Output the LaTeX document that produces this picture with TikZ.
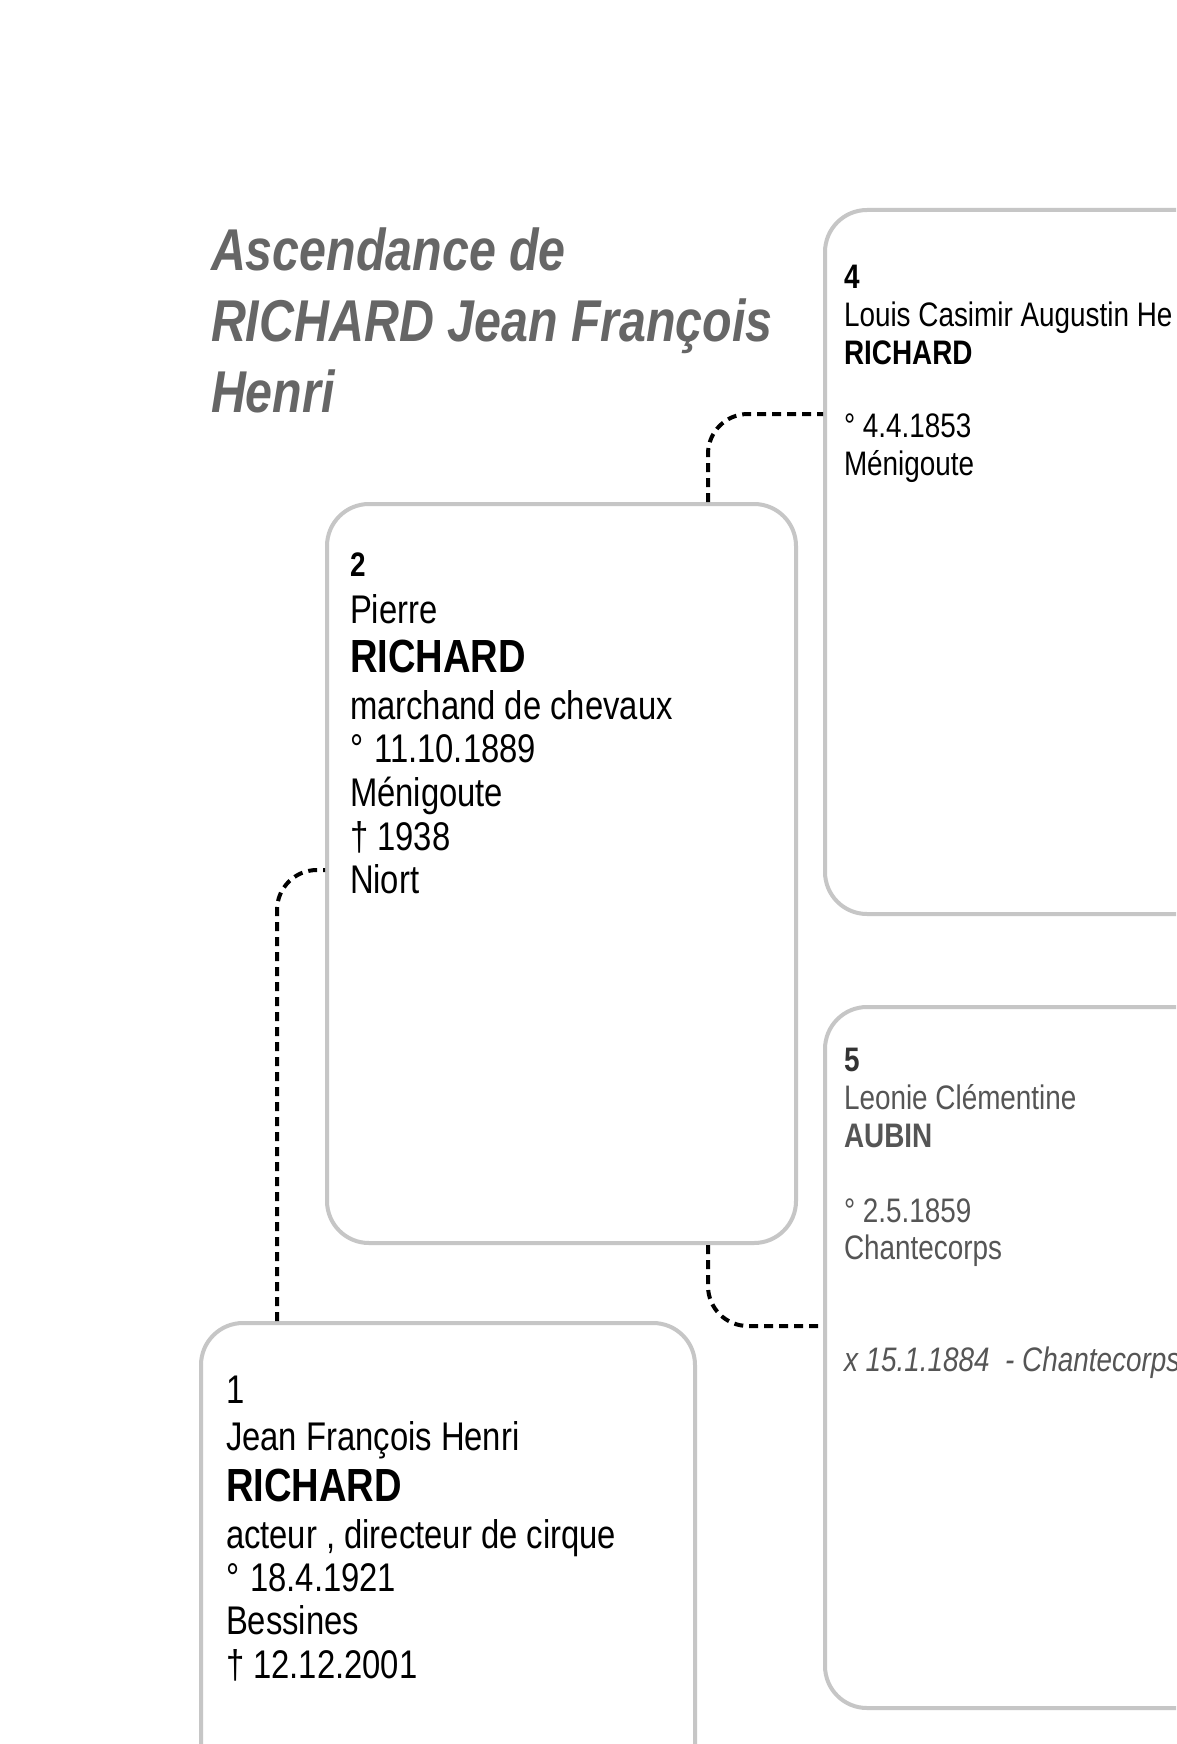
\documentclass[tikz,border=0pt]{standalone}
\usepackage{fontspec}
\setmainfont{Liberation Sans}[FakeStretch=0.82]
\definecolor{boxgray}{HTML}{C6C6C6}
\definecolor{titlegray}{HTML}{666666}
\definecolor{softgray}{HTML}{555555}
\tikzset{
  pbox/.style={draw=boxgray, line width=4pt, rounded corners=42pt, rectangle, inner sep=0pt, anchor=north west, fill=white},
  conn/.style={draw=black, line width=4pt, dash pattern=on 9pt off 6pt, rounded corners=40pt},
  tl/.style={anchor=base west, inner sep=0pt, outer sep=0pt},
  ttitle/.style={tl, text=titlegray, font=\fontsize{59pt}{71pt}\selectfont\bfseries\itshape},
  tbig/.style={tl, font=\fontsize{40pt}{44pt}\selectfont},
  tbigname/.style={tl, font=\fontsize{46.5pt}{50pt}\selectfont\bfseries},
  tsmall/.style={tl, font=\fontsize{34pt}{38pt}\selectfont},
  tsmallb/.style={tl, font=\fontsize{34pt}{38pt}\selectfont\bfseries},
}
\begin{document}
\begin{tikzpicture}[x=1pt,y=-1pt]
\useasboundingbox (0,0) rectangle (1176,1744);
\clip (0,0) rectangle (1176,1744);
\fill[white] (0,0) rectangle (1176,1744);

% title
\node[ttitle] (title1) at (211,270) {Ascendance de};
\node[ttitle] (title2) at (211,341) {RICHARD Jean François};
\node[ttitle] (title3) at (211,412) {Henri};

% boxes
\node[pbox, minimum width=520pt, minimum height=704pt] (b4) at (823,208) {};
\node[pbox, minimum width=520pt, minimum height=701pt] (b5) at (823,1005) {};
\node[pbox, minimum width=469pt, minimum height=739pt] (b2) at (325,502) {};
\node[pbox, minimum width=494pt, minimum height=600pt] (b1) at (199,1321) {};

% connectors
\coordinate (j4) at (708,414);
\coordinate (j5) at (708,1326);
\coordinate (j1) at (277,870);
\draw[conn] (b2.north -| j4) |- (b4.west |- j4);
\draw[conn] (b2.south -| j5) |- (b5.west |- j5);
\draw[conn] (b1.north -| j1) |- (b2.west |- j1);

% box 2
\node[tsmallb] (n2a) at (350,576) {2};
\node[tbig] (n2b) at (350,623) {Pierre};
\node[tbigname] (n2c) at (350,672) {RICHARD};
\node[tbig] (n2d) at (350,719) {marchand de chevaux};
\node[tbig] (n2e) at (350,762) {°\hspace{2pt} 11.10.1889};
\node[tbig] (n2f) at (350,806) {Ménigoute};
\node[tbig] (n2g) at (350,850) {† 1938};
\node[tbig] (n2h) at (350,893) {Niort};

% box 1
\node[tbig] (n1a) at (226,1403) {1};
\node[tbig] (n1b) at (226,1450) {Jean François Henri};
\node[tbigname] (n1c) at (226,1501) {RICHARD};
\node[tbig] (n1d) at (226,1548) {acteur , directeur de cirque};
\node[tbig] (n1e) at (226,1591) {°\hspace{2pt} 18.4.1921};
\node[tbig] (n1f) at (226,1634) {Bessines};
\node[tbig] (n1g) at (226,1678) {† 12.12.2001};

% box 4
\node[tsmallb] (n4a) at (844,288) {4};
\node[tsmall] (n4b) at (844,326) {Louis Casimir Augustin He};
\node[tsmallb] (n4c) at (844,364) {RICHARD};
\node[tsmall] (n4d) at (844,437) {° 4.4.1853};
\node[tsmall] (n4e) at (844,475) {Ménigoute};

% box 5
\node[tsmallb, text=black!80] (n5a) at (844,1071) {5};
\node[tsmall, text=softgray] (n5b) at (844,1109) {Leonie Clémentine};
\node[tsmallb, text=softgray] (n5c) at (844,1147) {AUBIN};
\node[tsmall, text=softgray] (n5d) at (844,1222) {° 2.5.1859};
\node[tsmall, text=softgray] (n5e) at (844,1259) {Chantecorps};
\node[tsmall, text=softgray, font=\fontsize{34pt}{38pt}\selectfont\itshape] (n5f) at (844,1371) {x 15.1.1884~ - Chantecorps};
\end{tikzpicture}
\end{document}
